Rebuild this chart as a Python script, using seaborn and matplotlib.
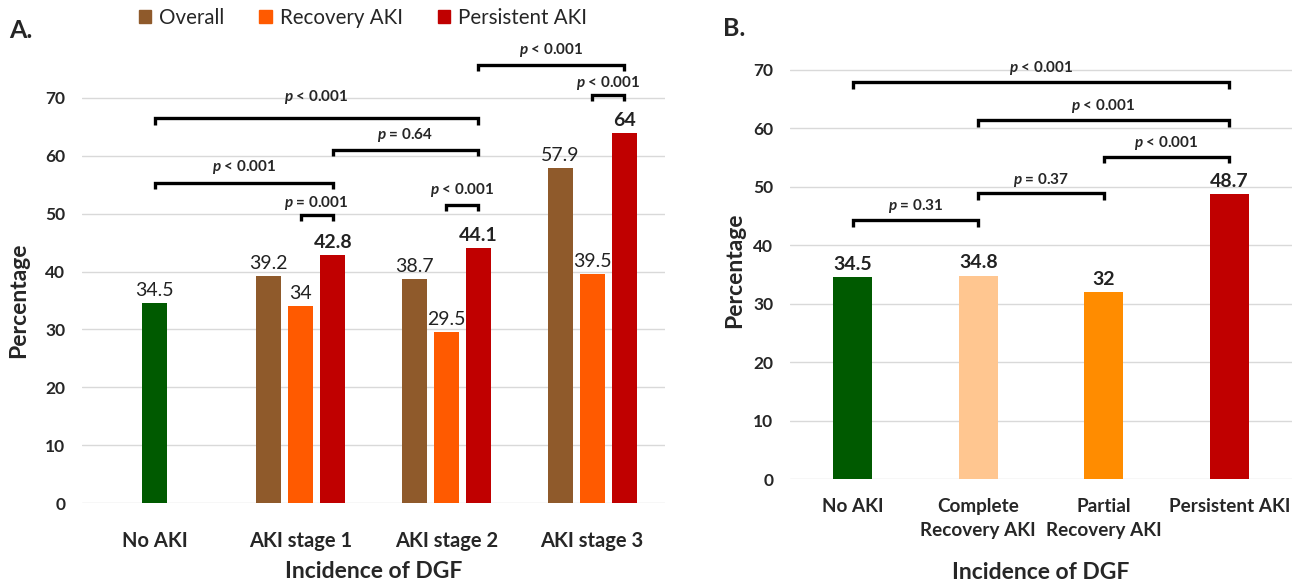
import matplotlib
matplotlib.use("Agg")
import matplotlib.pyplot as plt
import matplotlib.patches as mpatches
import seaborn as sns
import pandas as pd

# ---------------- data ----------------
a_categories = ["No AKI", "AKI stage 1", "AKI stage 2", "AKI stage 3"]
a_no_aki = 34.5
a_series = ["Overall", "Recovery AKI", "Persistent AKI"]
a_overall = [39.2, 38.7, 57.9]
a_recovery = [34, 29.5, 39.5]
a_persistent = [42.8, 44.1, 64]

b_categories = ["No AKI", "Complete\nRecovery AKI", "Partial\nRecovery AKI", "Persistent AKI"]
b_values = [34.5, 34.8, 32, 48.7]

# p-value annotations: (category, series, category, series, label)
a_pvals = [
    (2, "Persistent AKI", 3, "Persistent AKI", "< 0.001"),
    (3, "Recovery AKI", 3, "Persistent AKI", "< 0.001"),
    (0, "No AKI", 2, "Persistent AKI", "< 0.001"),
    (1, "Persistent AKI", 2, "Persistent AKI", "= 0.64"),
    (0, "No AKI", 1, "Persistent AKI", "< 0.001"),
    (2, "Recovery AKI", 2, "Persistent AKI", "< 0.001"),
    (1, "Recovery AKI", 1, "Persistent AKI", "= 0.001"),
]
b_pvals = [
    (0, 3, "< 0.001"),
    (1, 3, "< 0.001"),
    (2, 3, "< 0.001"),
    (1, 2, "= 0.37"),
    (0, 1, "= 0.31"),
]

# ---------------- style / layout ----------------
a_levels = [75.7, 70.5, 66.5, 61.0, 55.3, 51.5, 49.8]
a_text_off = [2.6, 2.1, 3.6, 2.6, 2.8, 2.6, 2.1]
b_levels = [67.9, 61.4, 55.1, 48.9, 44.3]
b_text_off = [2.5, 2.5, 2.4, 2.3, 2.5]

colors_a = {"No AKI": "#005A00", "Overall": "#8F5A2B",
            "Recovery AKI": "#FF5A00", "Persistent AKI": "#C00000"}
colors_b = ["#005A00", "#FFC690", "#FF8C00", "#C00000"]
offsets = {"No AKI": 0.0, "Overall": -0.22, "Recovery AKI": 0.0, "Persistent AKI": 0.22}

sns.set_theme(style="white")
FONT = "Lato"
plt.rcParams["font.family"] = [FONT, "DejaVu Sans"]
plt.rcParams["mathtext.fontset"] = "custom"
plt.rcParams["mathtext.it"] = "Lato:italic:bold"
plt.rcParams["mathtext.rm"] = "Lato:bold"
plt.rcParams["mathtext.bf"] = "Lato:bold"

CAT_FS_A = 14.5
CAT_FS_B = 13.6
VAL_FS = 14
YT_FS = 12.5
P_FS = 11
LAB_FS = 16.5

W, H = 1306, 580
fig = plt.figure(figsize=(W / 100, H / 100), dpi=100)

a_scale = 5.786
axA = fig.add_axes([82 / W, (H - 503) / H, 583 / W, 80 * a_scale / H])
b_scale = 5.843
axB = fig.add_axes([790 / W, (H - 479) / H, 502 / W, 80 * b_scale / H])

# ---------------- panel A ----------------
rows = [{"x": 0 + offsets["No AKI"], "value": a_no_aki, "group": "No AKI"}]
for name, vals in zip(a_series, [a_overall, a_recovery, a_persistent]):
    for i, v in enumerate(vals):
        rows.append({"x": i + 1 + offsets[name], "value": v, "group": name})
dfA = pd.DataFrame(rows)
hue_order = ["No AKI"] + a_series
sns.barplot(data=dfA, x="x", y="value", hue="group", hue_order=hue_order,
            palette=colors_a, native_scale=True, dodge=False, width=0.78,
            saturation=1, legend=False, ax=axA, linewidth=0)

for cont, grp in zip(axA.containers, hue_order):
    bold = grp in ("Persistent AKI",)
    axA.bar_label(cont, fmt="%g", padding=3, fontsize=VAL_FS,
                  fontweight="bold" if bold else "normal", color="#222222")

axA.set_xlim(-0.5, 3.5)
axA.set_ylim(0, 80)
axA.set_xticks(range(len(a_categories)))
axA.set_xticklabels(a_categories, fontsize=CAT_FS_A, fontweight="bold")
axA.set_yticks(range(0, 80, 10))
axA.tick_params(axis="x", length=0, pad=20)
axA.tick_params(axis="y", length=0, pad=12, labelsize=YT_FS)
for t in axA.get_yticklabels():
    t.set_fontweight("bold")
axA.set_xlabel("Incidence of DGF", fontsize=LAB_FS, fontweight="bold")
axA.set_ylabel("Percentage", fontsize=LAB_FS, fontweight="bold")
axA.xaxis.set_label_coords(0.5, -0.147)
axA.xaxis.label.set_va("center")
axA.yaxis.set_label_coords(-0.108, 0.4385)
axA.yaxis.label.set_va("center")


def bar_x(cat, series):
    return cat + offsets[series] if cat > 0 else cat


def bracket(ax, x1, x2, y, toff, label, depth=1.1):
    ax.plot([x1, x1, x2, x2], [y - depth, y, y, y - depth], color="black",
            lw=2.4, clip_on=False, solid_joinstyle="miter", solid_capstyle="butt")
    ax.text((x1 + x2) / 2, y + toff, r"$p$ " + label, ha="center", va="center",
            fontsize=P_FS, fontweight="bold", clip_on=False)


for (c1, s1, c2, s2, lab), lev, to in zip(a_pvals, a_levels, a_text_off):
    bracket(axA, bar_x(c1, s1), bar_x(c2, s2), lev, to, lab)

# ---------------- panel B ----------------
dfB = pd.DataFrame({"cat": b_categories, "value": b_values})
sns.barplot(data=dfB, x="cat", y="value", hue="cat", palette=colors_b,
            width=0.31, saturation=1, legend=False, ax=axB, linewidth=0)
for cont in axB.containers:
    axB.bar_label(cont, fmt="%g", padding=3, fontsize=VAL_FS, fontweight="bold",
                  color="#222222")
axB.set_xlim(-0.5, 3.5)
axB.set_ylim(0, 80)
axB.set_yticks(range(0, 80, 10))
axB.set_xticks(range(len(b_categories)))
axB.set_xticklabels(b_categories, fontsize=CAT_FS_B, fontweight="bold", linespacing=1.45)
axB.tick_params(axis="x", length=0, pad=14)
axB.tick_params(axis="y", length=0, pad=12, labelsize=YT_FS)
for t in axB.get_yticklabels():
    t.set_fontweight("bold")
axB.set_xlabel("Incidence of DGF", fontsize=LAB_FS, fontweight="bold")
axB.set_ylabel("Percentage", fontsize=LAB_FS, fontweight="bold")
axB.xaxis.set_label_coords(0.5, -0.199)
axB.xaxis.label.set_va("center")
axB.yaxis.set_label_coords(-0.110, 0.447)
axB.yaxis.label.set_va("center")

for (c1, c2, lab), lev, to in zip(b_pvals, b_levels, b_text_off):
    bracket(axB, c1, c2, lev, to, lab)

for ax in (axA, axB):
    sns.despine(ax=ax, left=True, bottom=True)
    ax.yaxis.grid(True, color="#D9D9D9", lw=1)
    ax.xaxis.grid(False)
    ax.set_axisbelow(True)

# ---------------- legend & panel letters ----------------
handles = [mpatches.Patch(color=colors_a[s]) for s in a_series]
fig.legend(handles, a_series, loc="center", bbox_to_anchor=(363 / W, 1 - 18 / H),
           ncol=3, frameon=False, fontsize=14.8, handlelength=0.6, handleheight=0.6,
           columnspacing=1.7, handletextpad=0.4)
fig.text(9 / W, 1 - 30 / H, "A.", fontsize=18, fontweight="bold", va="center", ha="left")
fig.text(723 / W, 1 - 28 / H, "B.", fontsize=18, fontweight="bold", va="center", ha="left")

fig.savefig("out.png", dpi=100)
